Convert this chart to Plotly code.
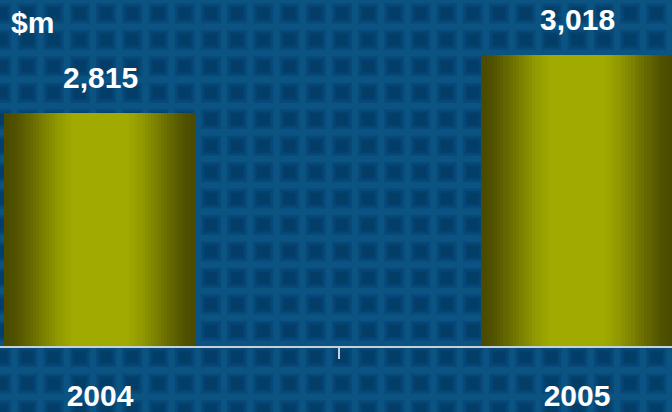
import plotly.graph_objects as go

categories = ["2004", "2005"]
values = [2815, 3018]
unit_label = "$m"

W, H = 672, 412
fig = go.Figure()

# bar gradient via overlaid bars of decreasing width
edge = (74, 74, 0)
center = (160, 170, 0)
N = 30
full_w = 0.4025
for k in range(N):
    d = 1 - k / N  # normalized half-width
    t = min(max((1 - d) / 0.72, 0), 1)
    t = t * t * (3 - 2 * t) * 0.6 + t * 0.4
    c = tuple(round(edge[i] + (center[i] - edge[i]) * t) for i in range(3))
    fig.add_trace(go.Bar(
        x=categories, y=values, width=full_w * d,
        marker=dict(color="rgb(%d,%d,%d)" % c, line=dict(width=0)),
        hoverinfo="skip", showlegend=False,
    ))

FONT = dict(family="Liberation Sans", size=30, color="white", weight="bold")

# value labels
for i, v in enumerate(values):
    fig.add_annotation(x=i, y=v, yshift=36, text=f"{v:,}", showarrow=False, font=FONT)

fig.add_annotation(xref="paper", yref="paper", x=0.013, y=1 - 23 / 348, xanchor="left",
                   yanchor="middle", text=unit_label, showarrow=False, font=FONT)

# background tile pattern (decoration) with soft edges
plot_h = 348.0
shapes = []
px_period_x, px_period_y = 26.2, 26.6
layers = [(-1.5, "#07497a"), (1.0, "#05436f"), (3.0, "#033e68")]
x0 = 19 - px_period_x
while x0 < W:
    y0 = 5 - px_period_y
    while y0 < H:
        for inset, col in layers:
            shapes.append(dict(type="rect", xref="paper", yref="paper", layer="below",
                               x0=(x0 + inset) / W, x1=(x0 + 17 - inset) / W,
                               y0=1 - (y0 + 17 - inset) / plot_h, y1=1 - (y0 + inset) / plot_h,
                               fillcolor=col, line=dict(width=0)))
        y0 += px_period_y
    x0 += px_period_x

fig.update_layout(
    width=W, height=H, autosize=False,
    margin=dict(l=0, r=0, t=0, b=64, pad=0),
    paper_bgcolor="#0b5482", plot_bgcolor="rgba(0,0,0,0)",
    barmode="overlay", bargap=0,
    shapes=shapes,
    xaxis=dict(type="category", range=[-100 / 477, 1 + 95 / 477],
               showline=True, linecolor="#c8d0d8", linewidth=2,
               ticks="outside", tickson="boundaries", ticklen=11, tickwidth=2,
               tickcolor="#c8d0d8", showgrid=False, zeroline=False,
               tickfont=FONT, ticklabelstandoff=22),
    yaxis=dict(range=[2000, 2000 + 348 / 0.2871], visible=False, showgrid=False, zeroline=False),
)

fig.write_html("out.html", config={"displayModeBar": False},
               post_script="document.body.style.margin='0px';")
